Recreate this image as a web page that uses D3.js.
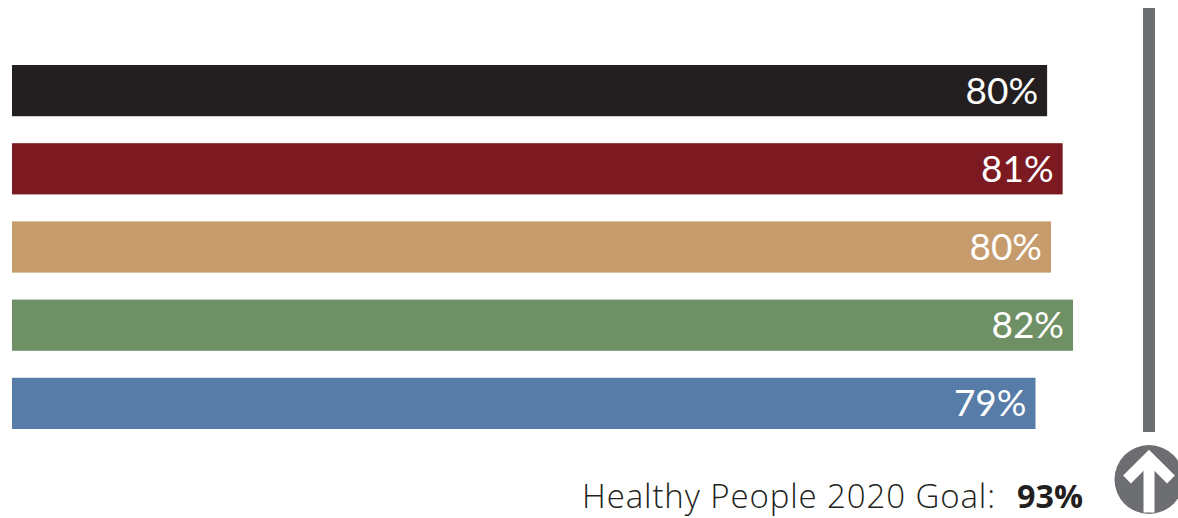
<!DOCTYPE html>
<html>
<head>
<meta charset="utf-8">
<script src="https://cdn.jsdelivr.net/npm/d3@7"></script>
<style>
  html, body { margin: 0; padding: 0; background: #ffffff; }
  svg { display: block; }
</style>
</head>
<body>
<svg id="chart" width="1178" height="518"></svg>
<script>
// ---- Data ----
const categories = ["Group 1", "Group 2", "Group 3", "Group 4", "Group 5"];
const values = [80.0, 81.2, 80.3, 82.0, 79.1];
const barLabels = ["80%", "81%", "80%", "82%", "79%"];
const barColors = ["#231f20", "#7d1a21", "#c69c6d", "#6f9064", "#577ca8"];
const goalText = "Healthy People 2020 Goal:";
const goalValue = "93%";

// ---- Layout ----
const svg = d3.select("#chart");
const x = d3.scaleLinear().domain([0, 82]).range([12, 1073]);
const y = d3.scaleBand().domain(categories).range([65, 429]).paddingInner(0.345).paddingOuter(0);

svg.selectAll("rect.bar")
  .data(categories)
  .join("rect")
  .attr("class", "bar")
  .attr("x", x(0))
  .attr("y", d => y(d))
  .attr("width", (d, i) => x(values[i]) - x(0))
  .attr("height", y.bandwidth())
  .attr("fill", (d, i) => barColors[i]);

svg.selectAll("text.lbl")
  .data(categories)
  .join("text")
  .attr("class", "lbl")
  .attr("x", (d, i) => x(values[i]) - 9)
  .attr("y", d => y(d) + y.bandwidth() / 2 + 13)
  .attr("text-anchor", "end")
  .attr("fill", "#ffffff")
  .style("font-family", "Lato, 'Open Sans', sans-serif")
  .style("font-size", "37px")
  .text((d, i) => barLabels[i]);

// Goal line
svg.append("rect")
  .attr("x", 1143).attr("y", 8)
  .attr("width", 12).attr("height", 424)
  .attr("fill", "#6d6e71");

// Goal icon
const cx = 1149, cy = 479.5;
svg.append("circle").attr("cx", cx).attr("cy", cy).attr("r", 34.5).attr("fill", "#6d6e71");
svg.append("path")
  .attr("d", `M${cx - 22},${cy} L${cx},${cy - 22} L${cx + 22},${cy}`)
  .attr("fill", "none").attr("stroke", "#ffffff").attr("stroke-width", 11)
  .attr("stroke-linejoin", "miter");
svg.append("line")
  .attr("x1", cx).attr("x2", cx).attr("y1", cy - 20).attr("y2", cy + 33)
  .attr("stroke", "#ffffff").attr("stroke-width", 11);

// Goal text
svg.append("text")
  .attr("x", 582).attr("y", 508)
  .attr("textLength", 413).attr("lengthAdjust", "spacing")
  .style("font-family", "'Open Sans', Roboto, sans-serif")
  .style("font-weight", 300)
  .style("font-size", "33px")
  .attr("fill", "#231f20")
  .text(goalText);
svg.append("text")
  .attr("x", 1017).attr("y", 508)
  .attr("textLength", 66).attr("lengthAdjust", "spacingAndGlyphs")
  .style("font-family", "'Open Sans', Roboto, sans-serif")
  .style("font-weight", 700)
  .style("font-size", "33px")
  .attr("fill", "#231f20")
  .text(goalValue);
</script>
</body>
</html>
